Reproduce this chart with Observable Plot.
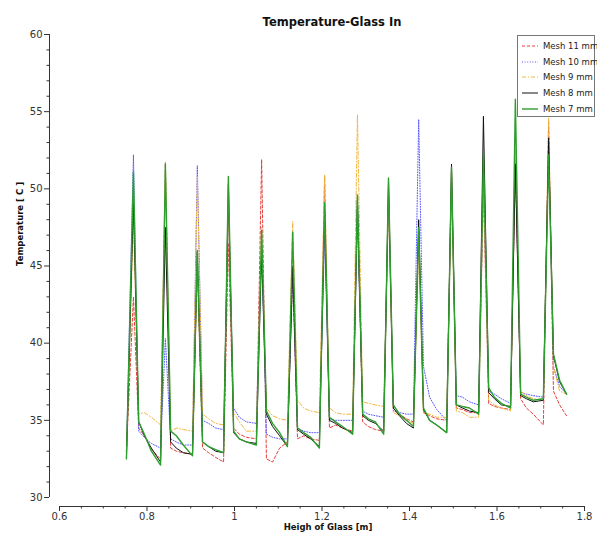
<!DOCTYPE html>
<html>
<head>
<meta charset="utf-8">
<script src="https://cdn.jsdelivr.net/npm/d3@7"></script>
<script src="https://cdn.jsdelivr.net/npm/@observablehq/plot@0.6"></script>
<style>
  body { margin: 0; background: #fff; font-family: "DejaVu Sans", Verdana, sans-serif; }
  #wrap { position: relative; width: 597px; height: 536px; }
  #legend { position: absolute; left: 517px; top: 35px; width: 78px; height: 82px; border: 1px solid #777; background: #fff; box-sizing: border-box; }
  .row { position: absolute; left: 4px; height: 12px; display: flex; align-items: center; font-size: 8.5px; color: #222; white-space: nowrap; }
  .row svg { margin-right: 5px; }
</style>
</head>
<body>
<div id="wrap"></div>
<script>
// ---- data ----
const title = "Temperature-Glass In";
const xLabel = "Heigh of Glass [m]";
const yLabel = "Temperature [ C ]";
const xDomain = [0.6, 1.8];
const yDomain = [30, 60];
const xTicks = [0.6, 0.8, 1, 1.2, 1.4, 1.6, 1.8];
const yTicks = [30, 35, 40, 45, 50, 55, 60];
const xMinor = [0.65, 0.7, 0.75, 0.85, 0.9, 0.95, 1.05, 1.1, 1.15, 1.25, 1.3, 1.35, 1.45, 1.5, 1.55, 1.65, 1.7, 1.75];
const yMinor = [31,32,33,34,36,37,38,39,41,42,43,44,46,47,48,49,51,52,53,54,56,57,58,59];

const heights = [
  0.753, 0.769, 0.781, 0.794, 0.810,
  0.831, 0.842, 0.854, 0.867, 0.883,
  0.904, 0.915, 0.927, 0.941, 0.957,
  0.975, 0.986, 0.998, 1.011, 1.027,
  1.050, 1.062, 1.073, 1.087, 1.103,
  1.121, 1.133, 1.144, 1.158, 1.174,
  1.194, 1.206, 1.217, 1.231, 1.247,
  1.270, 1.281, 1.293, 1.306, 1.322,
  1.341, 1.352, 1.363, 1.377, 1.393,
  1.409, 1.421, 1.432, 1.446, 1.462,
  1.485, 1.496, 1.507, 1.521, 1.537,
  1.558, 1.569, 1.581, 1.594, 1.610,
  1.631, 1.642, 1.654, 1.667, 1.683,
  1.706, 1.718, 1.729, 1.743, 1.759
];

const mesh11 = [
  33.0, 43.0, 34.5, 34.0, 33.1,
  32.5, 51.7, 33.2, 33.0, 32.9,
  32.8, 45.0, 33.2, 32.9, 32.6,
  32.3, 46.5, 34.5, 34.1, 33.9,
  33.8, 51.9, 32.5, 32.3, 33.2,
  33.6, 44.5, 33.8, 34.0, 33.8,
  33.7, 50.8, 34.5, 34.7, 34.5,
  34.3, 48.8, 34.9, 34.6, 34.4,
  34.3, 49.7, 36.0, 35.4, 35.1,
  34.9, 47.3, 35.5, 35.3, 35.1,
  35.0, 51.3, 35.8, 35.7, 35.5,
  35.5, 50.0, 36.1, 35.9, 35.8,
  35.7, 52.0, 36.4, 35.8, 35.4,
  34.7, 54.3, 36.9, 36.0, 35.3
];
const mesh10 = [
  33.0, 52.2, 34.3, 33.9, 33.5,
  33.2, 40.3, 33.8, 33.6, 33.4,
  33.4, 51.5, 35.0, 34.8, 34.5,
  34.4, 48.5, 35.8, 35.2, 34.9,
  34.8, 46.5, 34.1, 33.9, 33.8,
  33.8, 44.5, 34.5, 34.3, 34.2,
  34.2, 47.0, 35.1, 35.0, 35.0,
  35.0, 48.0, 35.6, 35.4, 35.3,
  35.2, 49.5, 35.6, 35.5, 35.4,
  35.4, 54.5, 38.5, 36.5, 35.7,
  35.0, 50.5, 36.6, 36.5, 36.2,
  36.0, 51.0, 36.9, 36.7, 36.4,
  36.1, 52.0, 36.8, 36.7, 36.6,
  36.5, 53.0, 38.5, 37.2, 36.7
];
const mesh9 = [
  33.0, 48.0, 35.4, 35.5, 35.2,
  34.7, 51.2, 34.3, 34.5, 34.4,
  34.3, 50.8, 35.4, 35.1, 34.8,
  34.7, 48.5, 35.5, 34.9, 34.3,
  34.3, 47.5, 35.8, 35.3, 35.1,
  35.0, 47.9, 36.3, 35.8, 35.6,
  35.5, 50.9, 35.8, 35.5, 35.4,
  35.4, 54.8, 36.2, 36.1, 36.0,
  35.9, 49.0, 35.5, 35.3, 35.0,
  34.8, 46.0, 35.5, 35.4, 35.2,
  35.2, 50.0, 35.6, 35.5, 35.2,
  35.2, 51.0, 36.3, 36.0, 35.8,
  35.6, 52.5, 36.9, 36.6, 36.4,
  36.3, 54.6, 38.5, 36.9, 36.7
];
const mesh8 = [
  32.6, 49.2, 34.9, 34.0, 33.2,
  32.3, 47.5, 33.6, 33.2, 32.9,
  32.8, 45.9, 33.6, 33.3, 33.0,
  32.9, 50.3, 34.2, 33.8, 33.6,
  33.5, 45.9, 35.4, 34.6, 34.0,
  33.3, 45.0, 34.4, 34.1, 33.8,
  33.3, 48.5, 35.0, 34.8, 34.5,
  34.2, 49.3, 35.3, 35.0, 34.8,
  34.3, 50.5, 35.8, 35.3, 34.8,
  34.5, 48.0, 35.7, 35.0, 34.7,
  34.2, 51.6, 36.0, 35.8, 35.6,
  35.5, 54.7, 36.8, 36.4, 36.0,
  35.9, 51.6, 36.6, 36.4, 36.2,
  36.3, 53.3, 39.2, 37.5, 36.7
];
const mesh7 = [
  32.5, 51.1, 34.9, 34.1, 33.0,
  32.1, 51.6, 34.3, 34.0, 33.4,
  32.7, 46.0, 33.6, 33.3, 33.1,
  32.9, 50.8, 34.3, 33.8, 33.6,
  33.4, 47.3, 35.6, 34.8, 34.2,
  33.3, 47.2, 34.5, 34.2, 33.9,
  33.2, 49.1, 35.2, 34.9, 34.6,
  34.1, 49.6, 35.4, 35.1, 34.9,
  34.1, 50.7, 36.0, 35.4, 35.0,
  34.6, 47.5, 35.8, 35.0, 34.7,
  34.2, 51.4, 36.0, 35.9, 35.8,
  35.4, 52.3, 37.1, 36.5, 36.1,
  35.8, 55.8, 36.7, 36.5, 36.3,
  36.4, 52.2, 39.3, 37.6, 36.7
];

const seriesNames = ["Mesh 11 mm", "Mesh 10 mm", "Mesh 9 mm", "Mesh 8 mm", "Mesh 7 mm"];
const seriesValues = [mesh11, mesh10, mesh9, mesh8, mesh7];
const seriesStyles = [
  {stroke: "#e5403c", dash: "3,2", width: 1},
  {stroke: "#5858ff", dash: "1,1.6", width: 1},
  {stroke: "#f2b640", dash: "4,2,1,2", width: 1},
  {stroke: "#111111", dash: null, width: 1},
  {stroke: "#2e9e2e", dash: null, width: 1.4}
];

const lineMarks = seriesValues.map((vals, s) =>
  Plot.line(heights.map((h, i) => ({x: h, y: vals[i]})), {
    x: "x", y: "y",
    stroke: seriesStyles[s].stroke,
    strokeWidth: seriesStyles[s].width,
    strokeDasharray: seriesStyles[s].dash
  })
);

const chart = Plot.plot({
  width: 597,
  height: 536,
  marginTop: 34,
  marginBottom: 39,
  marginLeft: 59,
  marginRight: 13,
  x: {domain: xDomain},
  y: {domain: yDomain},
  style: {fontFamily: "DejaVu Sans, Verdana, sans-serif", fontSize: "10px", color: "#333", background: "#fff"},
  marks: [
    Plot.ruleX([xDomain[0]], {dx: -10, stroke: "#333"}),
    Plot.ruleY([yDomain[0]], {dy: 9, stroke: "#333"}),
    Plot.axisY({ticks: yTicks, tickSize: 5, tickPadding: 2, dx: -10, label: null}),
    Plot.axisY({ticks: yMinor, tickSize: 2.5, dx: -10, label: null, tickFormat: () => ""}),
    Plot.axisX({ticks: xTicks, tickSize: 5, tickPadding: 1, dy: 9, label: null, tickFormat: d3.format("~g")}),
    Plot.axisX({ticks: xMinor, tickSize: 2.5, dy: 9, label: null, tickFormat: () => ""}),
    ...lineMarks,
    Plot.text([title], {frameAnchor: "top", dy: -17, dx: 10, fontWeight: "bold", fontSize: 11.5, fill: "#111"}),
    Plot.text([xLabel], {frameAnchor: "bottom", dy: 32, dx: 6, fontWeight: "bold", fontSize: 8.5, fill: "#111"}),
    Plot.text([yLabel], {frameAnchor: "left", dx: -39, rotate: -90, fontWeight: "bold", fontSize: 8.5, fill: "#111"})
  ]
});

const wrap = document.getElementById("wrap");
wrap.appendChild(chart);

// legend
const legend = document.createElement("div");
legend.id = "legend";
seriesNames.forEach((name, s) => {
  const row = document.createElement("div");
  row.className = "row";
  row.style.top = (4 + s * 15.7) + "px";
  const st = seriesStyles[s];
  row.innerHTML = `<svg width="16" height="6"><line x1="0" y1="3" x2="16" y2="3" stroke="${st.stroke}" stroke-width="${st.width}" ${st.dash ? `stroke-dasharray="${st.dash}"` : ""}/></svg><span>${name}</span>`;
  legend.appendChild(row);
});
wrap.appendChild(legend);
</script>
</body>
</html>
